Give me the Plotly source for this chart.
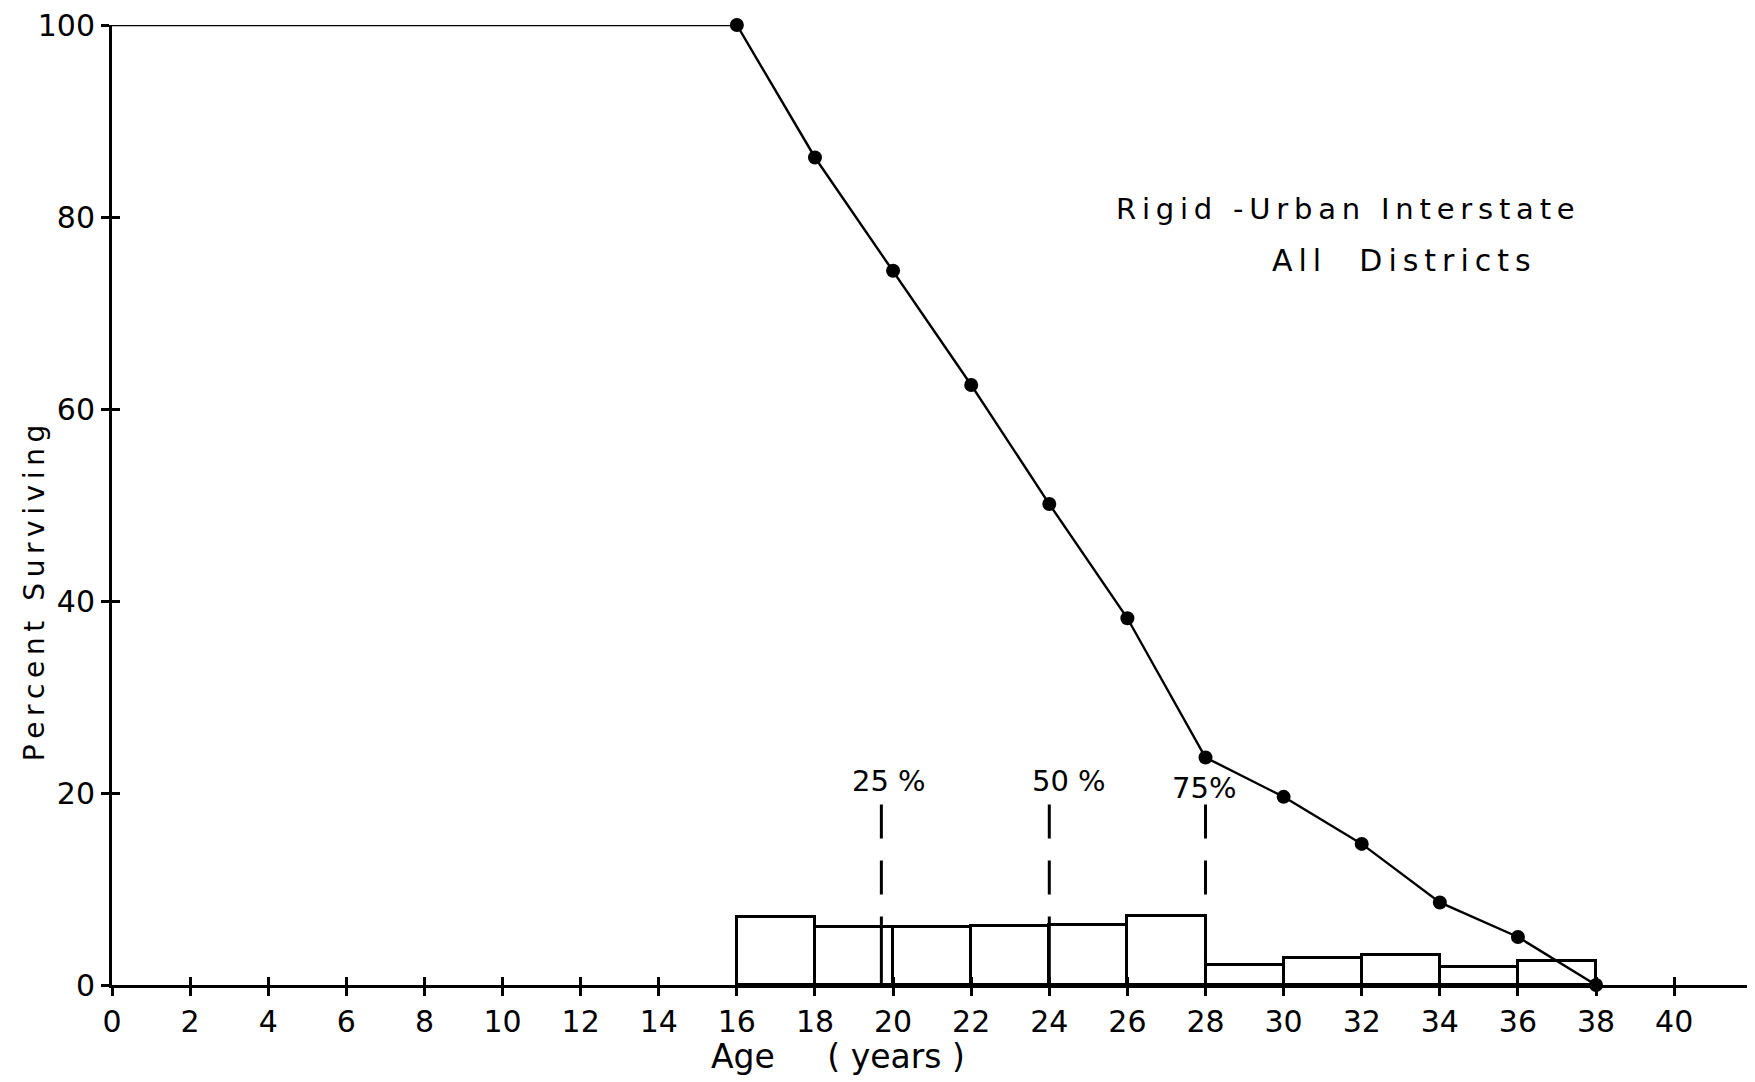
import plotly.graph_objects as go

# Survival curve (percent surviving by age)
ages = [0, 16, 18, 20, 22, 24, 26, 28, 30, 32, 34, 36, 38]
surviving = [100, 100, 86.2, 74.4, 62.5, 50.1, 38.2, 23.7, 19.6, 14.7, 8.6, 5.0, 0]

# Frequency histogram (2-year bins)
bin_left = [16, 18, 20, 22, 24, 26, 28, 30, 32, 34, 36]
bin_freq = [7.1, 6.0, 6.0, 6.1, 6.25, 7.2, 2.1, 2.8, 3.1, 1.85, 2.5]
bin_width = 2

# Quartile markers
quartile_age = [19.7, 24, 28]
quartile_label = ["25 %", "50 %", "75%"]
quartile_top = 18.8
quartile_label_y = [21.3, 21.3, 20.5]
quartile_label_x = [19.9, 24.5, 27.95]

x_ticks = list(range(0, 42, 2))
y_ticks = [0, 20, 40, 60, 80, 100]

FONT = "DejaVu Sans"
NB = "\u00a0"
TS = "\u2009"  # thin space, used to letter-space the lettering


def spaced(s):
    return TS.join(s).replace(" ", NB)


fig = go.Figure()

# histogram bars, outlined only
fig.add_trace(go.Bar(
    x=[b + bin_width / 2 for b in bin_left],
    y=bin_freq,
    width=bin_width,
    marker=dict(color="white", line=dict(color="black", width=3)),
    showlegend=False,
    hoverinfo="skip",
))

# quartile lines: solid inside the bar, dashed above it
for age, label, lx, ly in zip(quartile_age, quartile_label, quartile_label_x, quartile_label_y):
    h = 0
    for b, f in zip(bin_left, bin_freq):
        if b <= age < b + bin_width:
            h = f
    fig.add_trace(go.Scatter(
        x=[age, age], y=[0, h], mode="lines",
        line=dict(color="black", width=3),
        showlegend=False, hoverinfo="skip",
    ))
    fig.add_trace(go.Scatter(
        x=[age, age], y=[quartile_top, h], mode="lines",
        line=dict(color="black", width=3, dash="34px,22px"),
        showlegend=False, hoverinfo="skip",
    ))
    fig.add_annotation(x=lx, y=ly, text=label, showarrow=False, xanchor="center",
                       font=dict(family=FONT, size=29, color="black"))

# survival curve
fig.add_trace(go.Scatter(
    x=ages, y=surviving, mode="lines",
    line=dict(color="black", width=2.4),
    showlegend=False, cliponaxis=False,
))
fig.add_trace(go.Scatter(
    x=ages[1:], y=surviving[1:], mode="markers",
    marker=dict(color="black", size=14),
    showlegend=False, cliponaxis=False,
))

# invisible trace to carry the inside-tick overlay axes
fig.add_trace(go.Scatter(x=[0], y=[0], xaxis="x2", yaxis="y2", mode="markers",
                         marker=dict(opacity=0), showlegend=False, hoverinfo="skip"))

fig.add_annotation(x=25.66, y=80.8, xanchor="left", text=spaced("Rigid -Urban Interstate"),
                   showarrow=False, font=dict(family=FONT, size=29, color="black"))
fig.add_annotation(x=29.65, y=75.5, xanchor="left", text=spaced("All") + NB * 4 + spaced("Districts"),
                   showarrow=False, font=dict(family=FONT, size=30, color="black"))

fig.add_annotation(x=18.6, y=0, yref="y", yanchor="top", yshift=-50, xanchor="center",
                   text="Age" + NB * 5 + "(" + NB + "years" + NB + ")", showarrow=False,
                   font=dict(family=FONT, size=33, color="black"))
fig.add_annotation(x=0, xref="paper", y=40.8, xshift=-78, xanchor="center", textangle=-90,
                   text=spaced("Percent Surviving"), showarrow=False,
                   font=dict(family=FONT, size=28, color="black"))

axis_common = dict(showgrid=False, zeroline=False, showline=True, linecolor="black",
                   linewidth=3, tickcolor="black", tickwidth=2.5, ticklen=8,
                   ticklabeloverflow="allow", automargin=False,
                   tickfont=dict(family=FONT, size=30, color="black"))

fig.update_layout(
    width=1755, height=1082,
    margin=dict(l=104, r=8, t=17, b=105),
    plot_bgcolor="white", paper_bgcolor="white",
    bargap=0,
    xaxis=dict(range=[0, 42.07], tickvals=x_ticks, ticks="outside", **axis_common),
    yaxis=dict(range=[0, 100], tickvals=y_ticks, ticks="outside", **axis_common),
    xaxis2=dict(overlaying="x", matches="x", anchor="y2", tickvals=x_ticks, ticks="inside",
                showticklabels=False, showgrid=False, zeroline=False, showline=False,
                automargin=False, tickcolor="black", tickwidth=2.5, ticklen=8),
    yaxis2=dict(overlaying="y", matches="y", anchor="x2", tickvals=y_ticks, ticks="inside",
                showticklabels=False, showgrid=False, zeroline=False, showline=False,
                automargin=False, tickcolor="black", tickwidth=2.5, ticklen=8),
)

fig.write_html("out.html")
